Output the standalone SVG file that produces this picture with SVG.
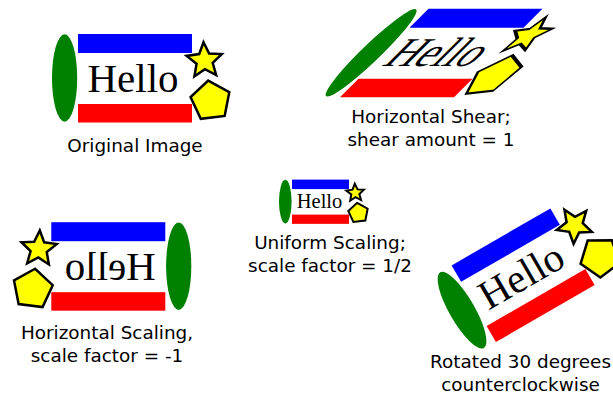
<svg xmlns="http://www.w3.org/2000/svg" xmlns:xlink="http://www.w3.org/1999/xlink" width="613" height="395" viewBox="0 0 613 395">
<style>
.g{fill:#008000}
.b{fill:#0000ff}
.r{fill:#ff0000}
.y{fill:#ffff00;stroke:#000;stroke-width:2.5;stroke-linejoin:miter}
.h{font-family:"Liberation Serif","Times New Roman",serif;font-size:41px;fill:#000}
.lbl{font-family:"DejaVu Sans","Bitstream Vera Sans",sans-serif;font-size:18.4px;fill:#000;text-anchor:middle}
#small .y{stroke-width:4}
</style>
<defs>
<polygon id="star" points="-0.97,-18.47 4.63,-7.13 17.27,-6.63 8.21,2.2 11.64,14.38 0.44,8.49 -10.08,15.52 -7.94,3.05 -17.87,-4.79 -5.35,-6.61"/>
<polygon id="pent" points="-2.5,-20.35 18.58,-8.66 13.98,14.99 -9.94,17.93 -20.12,-3.91"/>
</defs>
<rect width="613" height="395" fill="#fff"/>
<g id="original" transform="translate(135,78)">
  <ellipse class="g" cx="-70.4" cy="0" rx="12.6" ry="43.7"/>
  <rect class="b" x="-57" y="-44" width="114" height="19"/>
  <rect class="r" x="-57" y="26" width="114" height="18.5"/>
  <text class="h" x="-47.5" y="13.5">Hello</text>
  <use class="y" xlink:href="#star" href="#star" x="69.5" y="-17.3"/>
  <use class="y" xlink:href="#pent" href="#pent" x="75.7" y="22.9"/>
</g>
<g id="shear" transform="matrix(1,0,-1,1,441.5,52.8)">
  <ellipse class="g" cx="-70.4" cy="0" rx="12.6" ry="43.7"/>
  <rect class="b" x="-57" y="-44" width="114" height="19"/>
  <rect class="r" x="-57" y="26" width="114" height="18.5"/>
  <text class="h" x="-47.5" y="13.5">Hello</text>
  <use class="y" xlink:href="#star" href="#star" x="69.5" y="-17.3"/>
  <use class="y" xlink:href="#pent" href="#pent" x="75.7" y="22.9"/>
</g>
<g id="small" transform="translate(320.5,201.6) scale(0.5)">
  <ellipse class="g" cx="-70.4" cy="0" rx="12.6" ry="43.7"/>
  <rect class="b" x="-57" y="-44" width="114" height="19"/>
  <rect class="r" x="-57" y="26" width="114" height="18.5"/>
  <text class="h" x="-47.5" y="13.5">Hello</text>
  <use class="y" xlink:href="#star" href="#star" x="69.5" y="-17.3"/>
  <use class="y" xlink:href="#pent" href="#pent" x="75.7" y="22.9"/>
</g>
<g id="flip" transform="matrix(-1,0,0,1,108.3,266.2)">
  <ellipse class="g" cx="-70.4" cy="0" rx="12.6" ry="43.7"/>
  <rect class="b" x="-57" y="-44" width="114" height="19"/>
  <rect class="r" x="-57" y="26" width="114" height="18.5"/>
  <text class="h" x="-47.5" y="13.5">Hello</text>
  <use class="y" xlink:href="#star" href="#star" x="69.5" y="-17.3"/>
  <use class="y" xlink:href="#pent" href="#pent" x="75.7" y="22.9"/>
</g>
<g id="rotated" transform="translate(523,275) rotate(-30)">
  <ellipse class="g" cx="-70.4" cy="0" rx="12.6" ry="43.7"/>
  <rect class="b" x="-57" y="-44" width="114" height="19"/>
  <rect class="r" x="-57" y="26" width="114" height="18.5"/>
  <text class="h" x="-47.5" y="13.5">Hello</text>
  <use class="y" xlink:href="#star" href="#star" x="69.5" y="-17.3"/>
  <use class="y" xlink:href="#pent" href="#pent" x="75.7" y="22.9"/>
</g>
<g id="labels">
  <text class="lbl" x="135" y="151.5">Original Image</text>
  <text class="lbl" x="431" y="123.3">Horizontal Shear;</text>
  <text class="lbl" x="431" y="146">shear amount = 1</text>
  <text class="lbl" x="330" y="249">Uniform Scaling;</text>
  <text class="lbl" x="330" y="271.7">scale factor = 1/2</text>
  <text class="lbl" x="107" y="339">Horizontal Scaling,</text>
  <text class="lbl" x="107" y="362">scale factor = -1</text>
  <text class="lbl" x="520.5" y="368">Rotated 30 degrees</text>
  <text class="lbl" x="520.5" y="391">counterclockwise</text>
</g>
</svg>
